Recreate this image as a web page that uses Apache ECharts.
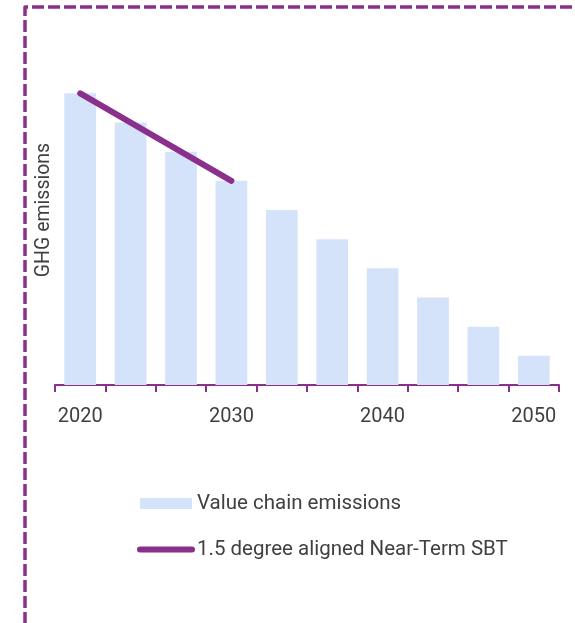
<!DOCTYPE html>
<html>
<head>
<meta charset="utf-8">
<style>
  html, body { margin: 0; padding: 0; background: #ffffff; }
  #chart { width: 575px; height: 623px; }
</style>
<script src="https://cdn.jsdelivr.net/npm/echarts@6/dist/echarts.min.js"></script>
</head>
<body>
<div id="chart"></div>
<script>
// Emissions pathway: value chain emissions by milestone year, plus the near-term target line
const years = ['2020', '2023', '2027', '2030', '2033', '2037', '2040', '2043', '2047', '2050'];
const valueChainEmissions = [100, 90, 80, 70, 60, 50, 40, 30, 20, 10];
const nearTermSbt = [100, '-', '-', 70, '-', '-', '-', '-', '-', '-'];

const seriesNames = ['Value chain emissions', '1.5 degree aligned Near-Term SBT'];
const yAxisTitle = 'GHG emissions';

const purple = '#8B2F8D';
const barBlue = '#D5E3FA';
const textGrey = '#404040';
const fontFamily = 'Roboto, "Noto Sans", sans-serif';

const chart = echarts.init(document.getElementById('chart'), null, { renderer: 'canvas' });

chart.setOption({
  animation: false,
  backgroundColor: '#ffffff',
  textStyle: { fontFamily: fontFamily, color: textGrey },
  grid: { left: 55, right: 16, top: 35, bottom: 238, containLabel: false },
  graphic: [
    {
      type: 'polyline',
      silent: true,
      shape: { points: [[25, 640], [25, 7], [600, 7]] },
      style: { stroke: purple, lineWidth: 3.5, lineDash: [12, 4], fill: null, lineJoin: 'round' }
    }
  ],
  legend: {
    orient: 'vertical',
    left: 137,
    top: 493,
    padding: 0,
    itemWidth: 52,
    itemHeight: 11,
    itemGap: 25,
    textStyle: { fontSize: 20.5, lineHeight: 20, color: textGrey, fontFamily: fontFamily },
    data: [
      { name: seriesNames[0], icon: 'rect' },
      {
        name: seriesNames[1],
        itemStyle: { opacity: 0 },
        lineStyle: { width: 6, cap: 'round', color: purple }
      }
    ]
  },
  xAxis: {
    type: 'category',
    data: years,
    boundaryGap: true,
    axisLine: { show: true, lineStyle: { color: purple, width: 2 } },
    axisTick: { show: true, interval: 0, length: 7, lineStyle: { color: purple, width: 2 } },
    axisLabel: { interval: 2, margin: 22, fontSize: 20, color: textGrey, fontFamily: fontFamily },
    splitLine: { show: false }
  },
  yAxis: {
    type: 'value',
    min: 0,
    max: 120,
    name: yAxisTitle,
    nameLocation: 'middle',
    nameRotate: 90,
    nameGap: 1,
    nameTextStyle: { fontSize: 19.5, color: textGrey, fontFamily: fontFamily },
    axisLine: { show: false },
    axisTick: { show: false },
    axisLabel: { show: false },
    splitLine: { show: false }
  },
  series: [
    {
      name: seriesNames[0],
      type: 'bar',
      data: valueChainEmissions,
      barWidth: '63%',
      itemStyle: { color: barBlue },
      z: 2
    },
    {
      name: seriesNames[1],
      type: 'line',
      data: nearTermSbt,
      connectNulls: true,
      symbol: 'none',
      lineStyle: { color: purple, width: 6, cap: 'round' },
      itemStyle: { color: purple },
      z: 3
    }
  ]
});
</script>
</body>
</html>
